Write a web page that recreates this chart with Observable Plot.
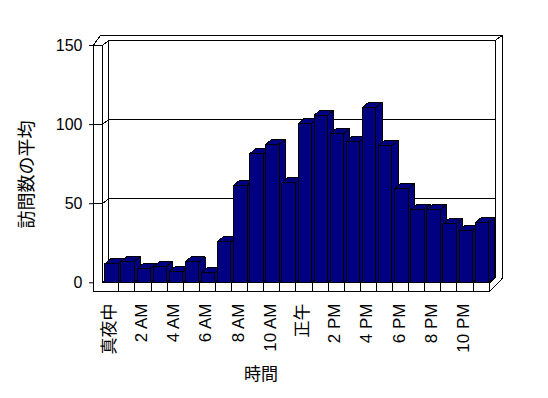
<!DOCTYPE html>
<html>
<head>
<meta charset="utf-8">
<script src="https://cdn.jsdelivr.net/npm/d3@7"></script>
<script src="https://cdn.jsdelivr.net/npm/@observablehq/plot@0.6"></script>
<style>
  html, body { margin: 0; padding: 0; background: #fff; }
</style>
</head>
<body>
<div id="chart"></div>
<script>
// ---- data ----
const hours = [0,1,2,3,4,5,6,7,8,9,10,11,12,13,14,15,16,17,18,19,20,21,22,23];
const visits = [12.0, 13.3, 8.9, 10.1, 7.0, 13.3, 6.3, 26.1, 61.6, 81.6, 87.5, 63.3,
                100.6, 105.9, 94.3, 89.4, 110.8, 86.9, 59.5, 46.2, 46.2, 37.3, 33.1, 38.0];
const tickHours = [0,2,4,6,8,10,12,14,16,18,20,22];
const tickLabels = ["真夜中","2 AM","4 AM","6 AM","8 AM","10 AM","正午","2 PM","4 PM","6 PM","8 PM","10 PM"];
const yTicks = [0, 50, 100, 150];
const yGrid = [50, 100];
const yLabel = "訪問数の平均";
const xLabel = "時間";

// ---- geometry helpers (pixel offsets -> data units) ----
const X0 = 102.2, X1 = 488.6, Y0 = 282.3, Y1 = 45;
const PX = (X1 - X0) / 24;
const PY = (Y0 - Y1) / 150;
const P = (h, v, dxp, dyp) => ({x: h + dxp / PX, y: v - dyp / PY});

function polys(list) {
  const rows = [];
  list.forEach((pts, id) => pts.forEach(p => rows.push({id, ...p})));
  return rows;
}

const silhouette = [P(0,150,-9.5,0), P(0,150,-2.2,-10), P(24,150,13.1,-10), P(24,0,13.1,-4.3), P(24,0,0.7,8.7), P(0,0,-9.5,8.7)];
const backWall = [P(0,150,6,-5), P(24,150,6,-5), P(24,0,6,-5), P(0,0,6,-5)];
const sideWall = [P(0,150,-0.5,0), P(0,150,6,-5), P(0,0,6,-5), P(0,0,-0.5,0)];
const lFace = [P(0,150,-9.5,0), P(0,150,-0.5,0), P(0,0,-0.5,0), P(24,0,0.7,0), P(24,0,0.7,8.7), P(0,0,-9.5,8.7)];
const framePolys = polys([silhouette, backWall, sideWall, lFace]);

const edgeLines = polys([
  [P(24,150,6,-5), P(24,150,13.1,-10)],
  [P(24,0,0.7,0), P(24,0,6,-5)],
  ...yGrid.map(v => [P(0,v,-9.5,0), P(0,v,-0.5,0), P(0,v,6,-5), P(24,v,6,-5)])
]);

// bars as 3D boxes: front, top, side faces
const DX = 6.3, DY = -5.2, F0 = 2.1, F1 = 15.5;
const barFaces = [];
hours.forEach((h, i) => {
  const v = visits[i];
  const a = P(h, 0, F0, 0), b = P(h, 0, F1, 0), c = P(h, v, F1, 0), d = P(h, v, F0, 0);
  const ct = P(h, v, F1 + DX, DY), dt = P(h, v, F0 + DX, DY), bt = P(h, 0, F1 + DX, DY);
  barFaces.push([a, b, c, d]);
  barFaces.push([d, c, ct, dt]);
  barFaces.push([b, bt, ct, c]);
});
const barRows = polys(barFaces);

const labelOf = new Map(tickHours.map((h, i) => [h + 0.5, tickLabels[i]]));

const chart = Plot.plot({
  width: 548,
  height: 398,
  marginLeft: 93,
  marginRight: 46,
  marginTop: 45,
  marginBottom: 107,
  style: {fontFamily: "'Liberation Sans', Arial, 'Noto Sans CJK JP', sans-serif", fontSize: "16px", background: "#fff", color: "#000"},
  x: {type: "linear", domain: [0, 24], range: [X0, X1]},
  y: {type: "linear", domain: [0, 150], range: [Y0, Y1]},
  marks: [
    Plot.line(framePolys, {x: "x", y: "y", z: "id", curve: "linear-closed", fill: "#fff", stroke: "#000", strokeWidth: 1, strokeLinejoin: "miter", shapeRendering: "crispEdges"}),
    Plot.line(edgeLines, {x: "x", y: "y", z: "id", stroke: "#000", strokeWidth: 1, strokeLinejoin: "miter", strokeLinecap: "butt", shapeRendering: "crispEdges"}),
    Plot.ruleX(hours.slice(1), {y1: 0, y2: -8.7 / PY, stroke: "#000", strokeWidth: 1, shapeRendering: "crispEdges"}),
    Plot.line(barRows, {x: "x", y: "y", z: "id", curve: "linear-closed", fill: "#000080", stroke: "#000", strokeWidth: 1, strokeLinejoin: "miter", shapeRendering: "crispEdges"}),
    Plot.axisY(yTicks, {anchor: "left", tickSize: 4, tickPadding: 7, fontSize: 16, label: null, stroke: "#000", fill: "#000"}),
    Plot.axisX(tickHours.map(h => h + 0.5), {anchor: "bottom", tickSize: 0, tickPadding: 12, tickRotate: -90, fontSize: 17, label: null, dx: -1.5, fill: "#000", tickFormat: d => labelOf.get(d)}),
    Plot.text([yLabel], {text: d => d, frameAnchor: "left", rotate: -90, dx: -66, dy: 60, fontSize: 18, fill: "#000"}),
    Plot.text([xLabel], {text: d => d, frameAnchor: "bottom", dx: -37, dy: 88, fontSize: 17, fill: "#000"})
  ]
});
document.getElementById("chart").appendChild(chart);
</script>
</body>
</html>
